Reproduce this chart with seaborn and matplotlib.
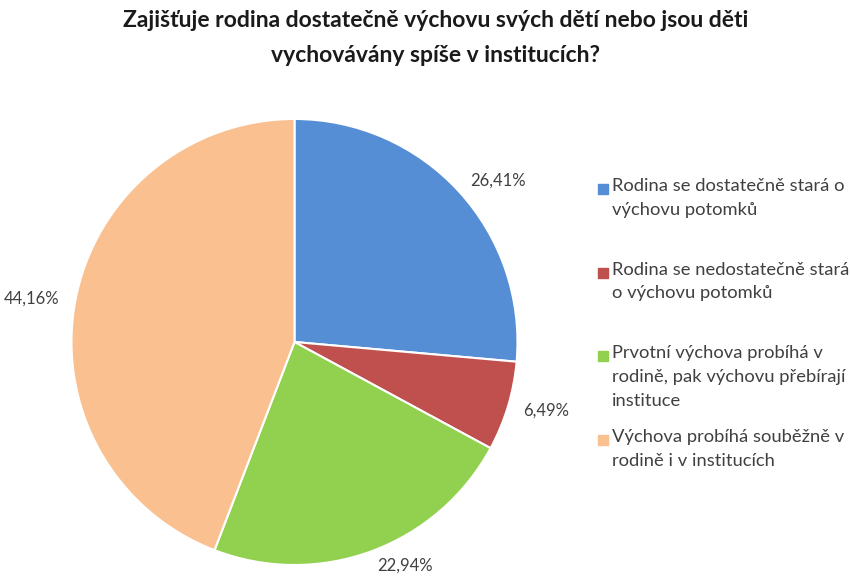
import matplotlib.pyplot as plt
from matplotlib.patches import Rectangle
import seaborn as sns

# survey answers and their shares (%)
categories = [
    'Rodina se dostatečně stará o\nvýchovu potomků',
    'Rodina se nedostatečně stará\no výchovu potomků',
    'Prvotní výchova probíhá v\nrodině, pak výchovu přebírají\ninstituce',
    'Výchova probíhá souběžně v\nrodině i v institucích',
]
shares = [26.41, 6.49, 22.94, 44.16]
colors = ['#558ED5', '#C0504D', '#92D050', '#FAC090']
title = ('Zajišťuje rodina dostatečně výchovu svých dětí nebo jsou děti\n'
         'vychovávány spíše v institucích?')

sns.set_theme(style='white')
plt.rcParams['font.family'] = ['Lato', 'DejaVu Sans']

fig = plt.figure(figsize=(8.5, 5.87), dpi=100)
ax = fig.add_axes([0.0841, 0.0375, 0.5247, 0.7598])

# Czech decimal comma in the slice labels
pct_labels = [f'{s:.2f}%'.replace('.', ',') for s in shares]
ax.pie(
    shares, labels=pct_labels, colors=colors, startangle=90,
    counterclock=False, labeldistance=1.07,
    wedgeprops=dict(edgecolor='white', linewidth=1.5),
    textprops=dict(fontsize=12, color='#404040'),
)
ax.set_xlim(-1, 1)
ax.set_ylim(-1, 1)
ax.set_aspect('auto')

fig.text(0.512, 1 - 10 / 587, title, ha='center', va='top', fontsize=16.5,
         fontweight='bold', color='#1a1a1a', linespacing=1.85)

# legend drawn by hand so the squares sit on the first line of each entry
for i, (label, color) in enumerate(zip(categories, colors)):
    yc = 1 - (189 + 83.7 * i) / 587
    fig.patches.append(Rectangle((598 / 850, yc - 5 / 587), 10 / 850, 10 / 587,
                                 transform=fig.transFigure, color=color))
    fig.text(612 / 850, yc + 11 / 587, label, ha='left', va='top',
             fontsize=13.2, color='#404040', linespacing=1.6)

fig.savefig('out.png', dpi=100)
